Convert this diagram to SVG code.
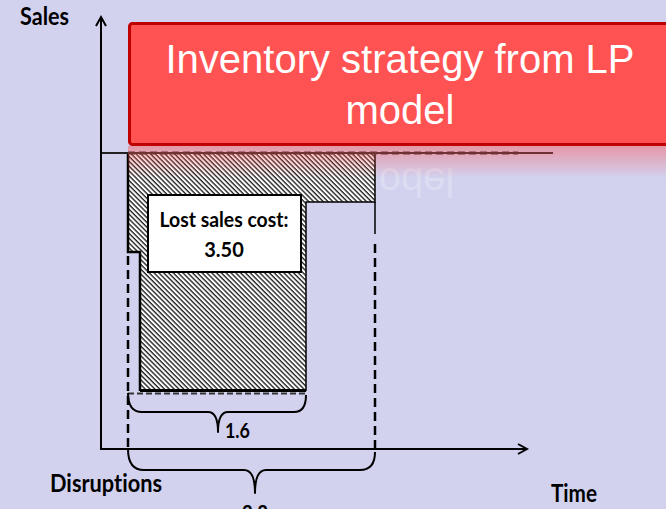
<svg xmlns="http://www.w3.org/2000/svg" width="666" height="509" viewBox="0 0 666 509">
  <style>
    .lbl { font-family: Lato, "Open Sans", "DejaVu Sans", sans-serif; font-weight: bold; fill: #000; font-variant-ligatures: none; }
    .ax { stroke: #000; stroke-width: 2; fill: none; }
    .edge { stroke: #000; fill: none; }
    .dash { stroke: #000; stroke-width: 2.5; fill: none; stroke-dasharray: 9 5; }
    .brace { stroke: #000; stroke-width: 2; fill: none; stroke-linejoin: round; }
    .title { font-family: "Liberation Sans", Arial, sans-serif; font-size: 40px; fill: #fff; text-anchor: middle; }
  </style>
  <defs>
    <pattern id="hatch" patternUnits="userSpaceOnUse" width="3.4" height="3.4" patternTransform="rotate(-45)">
      <rect width="3.4" height="3.4" fill="#fff"/>
      <line x1="1" y1="0" x2="1" y2="3.4" stroke="#000" stroke-width="1.2"/>
    </pattern>
    <linearGradient id="glow" x1="0" y1="0" x2="0" y2="1">
      <stop offset="0" stop-color="#ff5050" stop-opacity="0.45"/>
      <stop offset="1" stop-color="#ff5050" stop-opacity="0"/>
    </linearGradient>
    <clipPath id="right-of-area">
      <rect x="376" y="146" width="290" height="60"/>
    </clipPath>
  </defs>

  <rect width="666" height="509" fill="#d2d2ef"/>

  <!-- faint mirror image of the banner's second line, only where the plot is empty -->
  <g id="title-reflection" clip-path="url(#right-of-area)">
    <text class="title" x="400" y="124" opacity="0.22" transform="translate(0,292) scale(1,-1)">model</text>
  </g>

  <!-- lost-sales area -->
  <g id="lost-area">
    <polygon points="128,153 375,153 375,202 306,202 306,391 140,391 140,252 128,252" fill="url(#hatch)"/>
    <polyline class="edge" stroke-width="1.5" points="375,153 375,202 306,202 306,391"/>
    <polyline class="edge" stroke-width="2.5" points="128,153 128,252 140,252 140,391"/>
    <line class="edge" stroke-width="3" x1="140" y1="390.5" x2="306" y2="390.5"/>
  </g>

  <!-- cost label -->
  <g id="cost-label">
    <rect x="148" y="195" width="153" height="77" fill="#fff" stroke="#000" stroke-width="2"/>
    <text class="lbl" x="224" y="227" font-size="20" text-anchor="middle" textLength="129" lengthAdjust="spacingAndGlyphs">Lost sales cost:</text>
    <text class="lbl" x="224" y="257" font-size="20" text-anchor="middle">3.50</text>
  </g>

  <!-- axes and guide lines -->
  <g id="connectors">
    <line x1="100" y1="153" x2="553" y2="153" stroke="#222" stroke-width="2"/>
    <line x1="128" y1="153" x2="518" y2="153" stroke="#222" stroke-width="3" stroke-dasharray="7 4"/>
    <line x1="128" y1="393.5" x2="306" y2="393.5" stroke="#333" stroke-width="2" stroke-dasharray="6 3"/>
    <line class="dash" x1="128" y1="256" x2="128" y2="449"/>
    <line class="edge" stroke-width="1.5" x1="375" y1="202" x2="375" y2="234"/>
    <line class="dash" x1="375" y1="244" x2="375" y2="452"/>
    <line class="ax" x1="101" y1="17" x2="101" y2="449"/>
    <polyline class="ax" points="96,26 101,17 106,26"/>
    <line class="ax" x1="100" y1="449" x2="526" y2="449"/>
    <polyline class="ax" points="518,444 527,449 518,454"/>
    <path class="brace" d="M128,393 Q128,412 142,412 L208,412 Q218,412 218,432 Q218,412 228,412 L294,412 Q306,412 306,395"/>
    <path class="brace" d="M128,449 Q128,470 144,470 L244,470 Q255,470 255,493 Q255,470 266,470 L360,470 Q375,470 375,452"/>
  </g>

  <!-- axis and brace labels -->
  <g id="labels">
    <text class="lbl" x="20" y="25" font-size="24" textLength="49" lengthAdjust="spacingAndGlyphs">Sales</text>
    <text class="lbl" x="50" y="492" font-size="24" textLength="112" lengthAdjust="spacingAndGlyphs">Disruptions</text>
    <text class="lbl" x="551" y="502" font-size="24" textLength="46" lengthAdjust="spacingAndGlyphs">Time</text>
    <text class="lbl" x="225" y="438" font-size="20" textLength="25" lengthAdjust="spacingAndGlyphs">1.6</text>
    <text class="lbl" x="242" y="520" font-size="20" textLength="26" lengthAdjust="spacingAndGlyphs">2.2</text>
  </g>

  <!-- title banner -->
  <g id="title">
    <rect x="128" y="146" width="542" height="32" fill="url(#glow)"/>
    <rect x="129.5" y="23.5" width="545" height="121" rx="3" fill="#ff5252" stroke="#c00000" stroke-width="3"/>
    <text class="title" x="400" y="73">Inventory strategy from LP</text>
    <text class="title" x="400" y="124">model</text>
  </g>
</svg>
